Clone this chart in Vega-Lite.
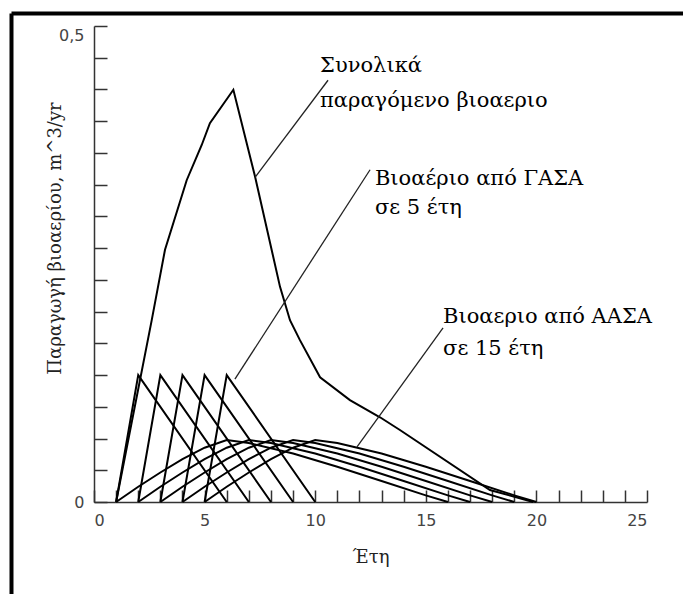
{
  "$schema": "https://vega.github.io/schema/vega-lite/v6.json",
  "width": 553,
  "height": 476,
  "autosize": {"type": "none"},
  "padding": {"left": 94, "top": 26, "right": 36, "bottom": 92},
  "background": "white",
  "config": {"view": {"stroke": null}},
  "datasets": {
    "curves": [
      {"series": "F1", "x": 1, "y": 0}, {"series": "F1", "x": 2, "y": 0.1333}, {"series": "F1", "x": 6, "y": 0},
      {"series": "F2", "x": 2, "y": 0}, {"series": "F2", "x": 3, "y": 0.1333}, {"series": "F2", "x": 7, "y": 0},
      {"series": "F3", "x": 3, "y": 0}, {"series": "F3", "x": 4, "y": 0.1333}, {"series": "F3", "x": 8, "y": 0},
      {"series": "F4", "x": 4, "y": 0}, {"series": "F4", "x": 5, "y": 0.1333}, {"series": "F4", "x": 9, "y": 0},
      {"series": "F5", "x": 5, "y": 0}, {"series": "F5", "x": 6, "y": 0.1333}, {"series": "F5", "x": 10, "y": 0},
      {"series": "S1", "x": 1, "y": 0}, {"series": "S1", "x": 2, "y": 0.016}, {"series": "S1", "x": 3, "y": 0.031}, {"series": "S1", "x": 4, "y": 0.045}, {"series": "S1", "x": 5, "y": 0.057}, {"series": "S1", "x": 6, "y": 0.065}, {"series": "S1", "x": 7, "y": 0.062}, {"series": "S1", "x": 9, "y": 0.051}, {"series": "S1", "x": 11, "y": 0.037}, {"series": "S1", "x": 13, "y": 0.022}, {"series": "S1", "x": 15, "y": 0.007}, {"series": "S1", "x": 16, "y": 0},
      {"series": "S2", "x": 2, "y": 0}, {"series": "S2", "x": 3, "y": 0.016}, {"series": "S2", "x": 4, "y": 0.031}, {"series": "S2", "x": 5, "y": 0.045}, {"series": "S2", "x": 6, "y": 0.057}, {"series": "S2", "x": 7, "y": 0.065}, {"series": "S2", "x": 8, "y": 0.062}, {"series": "S2", "x": 10, "y": 0.051}, {"series": "S2", "x": 12, "y": 0.037}, {"series": "S2", "x": 14, "y": 0.022}, {"series": "S2", "x": 16, "y": 0.007}, {"series": "S2", "x": 17, "y": 0},
      {"series": "S3", "x": 3, "y": 0}, {"series": "S3", "x": 4, "y": 0.016}, {"series": "S3", "x": 5, "y": 0.031}, {"series": "S3", "x": 6, "y": 0.045}, {"series": "S3", "x": 7, "y": 0.057}, {"series": "S3", "x": 8, "y": 0.065}, {"series": "S3", "x": 9, "y": 0.062}, {"series": "S3", "x": 11, "y": 0.051}, {"series": "S3", "x": 13, "y": 0.037}, {"series": "S3", "x": 15, "y": 0.022}, {"series": "S3", "x": 17, "y": 0.007}, {"series": "S3", "x": 18, "y": 0},
      {"series": "S4", "x": 4, "y": 0}, {"series": "S4", "x": 5, "y": 0.016}, {"series": "S4", "x": 6, "y": 0.031}, {"series": "S4", "x": 7, "y": 0.045}, {"series": "S4", "x": 8, "y": 0.057}, {"series": "S4", "x": 9, "y": 0.065}, {"series": "S4", "x": 10, "y": 0.062}, {"series": "S4", "x": 12, "y": 0.051}, {"series": "S4", "x": 14, "y": 0.037}, {"series": "S4", "x": 16, "y": 0.022}, {"series": "S4", "x": 18, "y": 0.007}, {"series": "S4", "x": 19, "y": 0},
      {"series": "S5", "x": 5, "y": 0}, {"series": "S5", "x": 6, "y": 0.016}, {"series": "S5", "x": 7, "y": 0.031}, {"series": "S5", "x": 8, "y": 0.045}, {"series": "S5", "x": 9, "y": 0.057}, {"series": "S5", "x": 10, "y": 0.065}, {"series": "S5", "x": 11, "y": 0.062}, {"series": "S5", "x": 13, "y": 0.051}, {"series": "S5", "x": 15, "y": 0.037}, {"series": "S5", "x": 17, "y": 0.022}, {"series": "S5", "x": 19, "y": 0.007}, {"series": "S5", "x": 20, "y": 0},
      {"series": "T", "x": 1, "y": 0}, {"series": "T", "x": 2.61, "y": 0.191}, {"series": "T", "x": 3.21, "y": 0.265}, {"series": "T", "x": 4.19, "y": 0.338}, {"series": "T", "x": 4.87, "y": 0.375}, {"series": "T", "x": 5.24, "y": 0.398}, {"series": "T", "x": 6.3, "y": 0.433}, {"series": "T", "x": 7.28, "y": 0.342}, {"series": "T", "x": 8.41, "y": 0.226}, {"series": "T", "x": 8.86, "y": 0.191}, {"series": "T", "x": 9.31, "y": 0.17}, {"series": "T", "x": 10.22, "y": 0.131}, {"series": "T", "x": 11.57, "y": 0.107}, {"series": "T", "x": 12.93, "y": 0.089}, {"series": "T", "x": 13.83, "y": 0.0756}, {"series": "T", "x": 17.9, "y": 0.0126}, {"series": "T", "x": 19.85, "y": 0}
    ],
    "leaders": [
      {"x": 7.28, "y": 0.341, "x2": 10.58, "y2": 0.443},
      {"x": 6.37, "y": 0.129, "x2": 12.48, "y2": 0.349},
      {"x": 11.89, "y": 0.0578, "x2": 15.78, "y2": 0.183}
    ],
    "notes": [
      {"x": 10.22, "y": 0.452, "text": "Συνολικά"},
      {"x": 10.22, "y": 0.415, "text": "παραγόμενο βιοαεριο"},
      {"x": 12.7, "y": 0.333, "text": "Βιοαέριο από ΓΑΣΑ"},
      {"x": 12.7, "y": 0.3025, "text": "σε 5 έτη"},
      {"x": 15.78, "y": 0.188, "text": "Βιοαεριο από ΑΑΣΑ"},
      {"x": 15.78, "y": 0.154, "text": "σε 15 έτη"}
    ],
    "frame": [
      {"x": -3.73, "y": 0.513, "x2": 27.5, "y2": 0.513},
      {"x": -3.73, "y": 0.513, "x2": -3.73, "y2": -0.12}
    ]
  },
  "layer": [
    {
      "data": {"name": "curves"},
      "mark": {"type": "line", "color": "black", "strokeWidth": 2},
      "encoding": {
        "x": {
          "field": "x", "type": "quantitative",
          "scale": {"domain": [0, 25], "nice": false, "zero": false},
          "axis": {
            "values": [0,1,2,3,4,5,6,7,8,9,10,11,12,13,14,15,16,17,18,19,20,21,22,23,24,25],
            "tickCount": 100,
            "format": "d",
            "labelExpr": "datum.value % 5 === 0 ? datum.label : ''",
            "labelOverlap": false,
            "grid": false, "tickSize": -12, "tickWidth": 1.5, "tickColor": "#333",
            "domainColor": "#333", "domainWidth": 1.5,
            "labelFont": "DejaVu Sans", "labelFontSize": 16, "labelColor": "#444", "labelPadding": 22,
            "title": "Έτη", "titleFont": "DejaVu Serif", "titleFontSize": 18, "titleFontWeight": "normal",
            "titleColor": "#222", "titlePadding": 20
          }
        },
        "y": {
          "field": "y", "type": "quantitative",
          "scale": {"domain": [0, 0.5], "nice": false},
          "axis": {
            "values": [0, 0.033333, 0.066667, 0.1, 0.133333, 0.166667, 0.2, 0.233333, 0.266667, 0.3, 0.333333, 0.366667, 0.4, 0.433333, 0.466667, 0.5],
            "tickCount": 100,
            "labelExpr": "datum.value == 0 ? '0' : (datum.value >= 0.49 ? '0,5' : '')",
            "labelOverlap": false,
            "labelOffset": {"condition": {"test": "datum.value >= 0.49", "value": 9}, "value": 0},
            "grid": false, "tickSize": -13, "tickWidth": 1.5, "tickColor": "#333",
            "domainColor": "#333", "domainWidth": 1.5,
            "labelFont": "DejaVu Sans", "labelFontSize": 16, "labelColor": "#444", "labelPadding": 23,
            "title": "Παραγωγή βιοαερίου, m^3/yr", "titleFont": "DejaVu Serif", "titleFontSize": 18,
            "titleFontWeight": "normal", "titleColor": "#222", "titlePadding": -6, "titleY": 212
          }
        },
        "detail": {"field": "series", "type": "nominal"}
      }
    },
    {
      "data": {"name": "leaders"},
      "mark": {"type": "rule", "color": "#222", "strokeWidth": 1.3},
      "encoding": {
        "x": {"field": "x", "type": "quantitative"},
        "y": {"field": "y", "type": "quantitative"},
        "x2": {"field": "x2"},
        "y2": {"field": "y2"}
      }
    },
    {
      "data": {"name": "notes"},
      "mark": {"type": "text", "align": "left", "baseline": "alphabetic", "font": "DejaVu Serif", "fontSize": 21, "color": "black"},
      "encoding": {
        "x": {"field": "x", "type": "quantitative"},
        "y": {"field": "y", "type": "quantitative"},
        "text": {"field": "text"}
      }
    },
    {
      "data": {"name": "frame"},
      "mark": {"type": "rule", "color": "black", "strokeWidth": 4},
      "encoding": {
        "x": {"field": "x", "type": "quantitative"},
        "y": {"field": "y", "type": "quantitative"},
        "x2": {"field": "x2"},
        "y2": {"field": "y2"}
      }
    }
  ]
}
